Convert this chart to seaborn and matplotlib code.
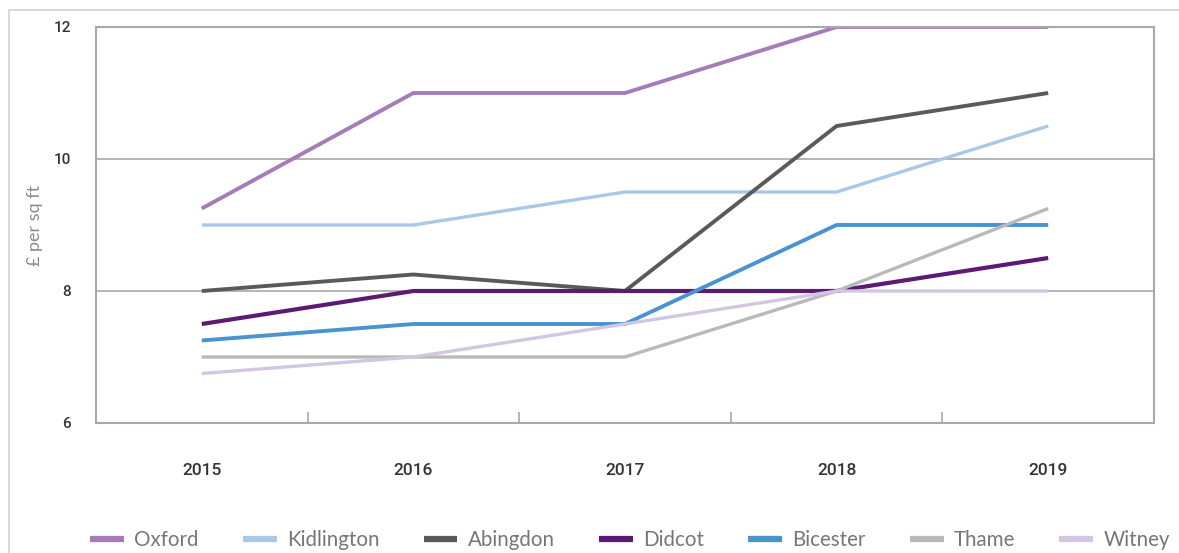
import matplotlib
matplotlib.use("Agg")
import matplotlib.pyplot as plt
import numpy as np
import pandas as pd
import seaborn as sns
from matplotlib.lines import Line2D
from matplotlib.patches import Rectangle
from matplotlib.font_manager import FontProperties

# ---------------- data ----------------
years = [2015, 2016, 2017, 2018, 2019]
towns = ["Oxford", "Kidlington", "Abingdon", "Didcot", "Bicester", "Thame", "Witney"]
oxford = [9.25, 11.0, 11.0, 12.0, 12.0]
kidlington = [9.0, 9.0, 9.5, 9.5, 10.5]
abingdon = [8.0, 8.25, 8.0, 10.5, 11.0]
didcot = [7.5, 8.0, 8.0, 8.0, 8.5]
bicester = [7.25, 7.5, 7.5, 9.0, 9.0]
thame = [7.0, 7.0, 7.0, 8.0, 9.25]
witney = [6.75, 7.0, 7.5, 8.0, 8.0]
y_ticks = [6, 8, 10, 12]
y_label = "£ per sq ft"

series = [oxford, kidlington, abingdon, didcot, bicester, thame, witney]
colors = ["#a57cba", "#a9c7e7", "#5a5a5a", "#5c1b72", "#4b93cf", "#b9b9b9", "#d3c6e3"]
widths = [2.8, 2.4, 2.8, 3.0, 2.8, 2.4, 2.4]

rows = []
for t, vals in zip(towns, series):
    for yr, v in zip(years, vals):
        rows.append({"town": t, "year": yr, "value": v})
df = pd.DataFrame(rows)

# ---------------- style ----------------
sns.set_theme(style="white")
plt.rcParams["font.family"] = ["Lato", "DejaVu Sans"]
narrow = ["Roboto", "DejaVu Sans"]

W, H = 1179, 553
fig = plt.figure(figsize=(W / 100, H / 100), dpi=100)
fig.patch.set_facecolor("white")

# outer light frame
fig.patches.append(Rectangle((9 / W, -0.1), 1.2, (H - 10) / H + 0.1,
                             transform=fig.transFigure, fill=False,
                             edgecolor="#d6d6d6", linewidth=1.3, zorder=0))

ax = fig.add_axes([96 / W, (H - 423) / H, (1154 - 96) / W, (423 - 27) / H])
ax.set_facecolor("white")

sns.lineplot(data=df, x="year", y="value", hue="town", hue_order=towns,
             palette=dict(zip(towns, colors)), linewidth=2.6, ax=ax,
             legend=False, sort=False, estimator=None)
for line, lw in zip(ax.get_lines(), widths):
    line.set_linewidth(lw)
    line.set_solid_capstyle("butt")
    line.set_solid_joinstyle("miter")

ax.set_xlim(years[0] - 0.5, years[-1] + 0.5)
ax.set_ylim(y_ticks[0], y_ticks[-1])

ax.set_xticks(years)
ax.set_xticklabels([str(y) for y in years], family=narrow, fontsize=12.5,
                   fontweight="medium", color="#333333")
ax.set_xticks([y + 0.5 for y in years[:-1]], minor=True)
ax.set_yticks(y_ticks)
ax.set_yticklabels([str(y) for y in y_ticks], family=narrow, fontsize=11,
                   fontweight="medium", color="#333333")

ax.tick_params(axis="x", which="major", length=0, pad=29)
ax.tick_params(axis="x", which="minor", length=8, width=1.2, direction="in",
               color="#a8a8a8", bottom=True)
ax.tick_params(axis="y", length=0, pad=18)

for yv in y_ticks[1:-1]:
    ax.axhline(yv, color="#b4b4b4", linewidth=1.4, zorder=0)

for s in ax.spines.values():
    s.set_visible(True)
    s.set_color("#a8a8a8")
    s.set_linewidth(1.5)
ax.grid(False)

ax.set_xlabel("")
ax.set_ylabel(y_label, fontsize=13, color="#8a8a8a", labelpad=8)

handles = [Line2D([0], [0], color=c, lw=4.5, solid_capstyle="butt") for c in colors]
leg_font = FontProperties(family=["Lato", "DejaVu Sans"], size=14.8, weight="normal")
fig.legend(handles=handles, labels=towns, ncol=7, loc="center",
           bbox_to_anchor=(90 / W, 0, (1170 - 90) / W, 26 / H), mode="expand",
           frameon=False, prop=leg_font, labelcolor="#767676",
           handlelength=1.65, handletextpad=0.5, borderaxespad=0, borderpad=0)

fig.savefig("out.png", dpi=100, facecolor="white")
